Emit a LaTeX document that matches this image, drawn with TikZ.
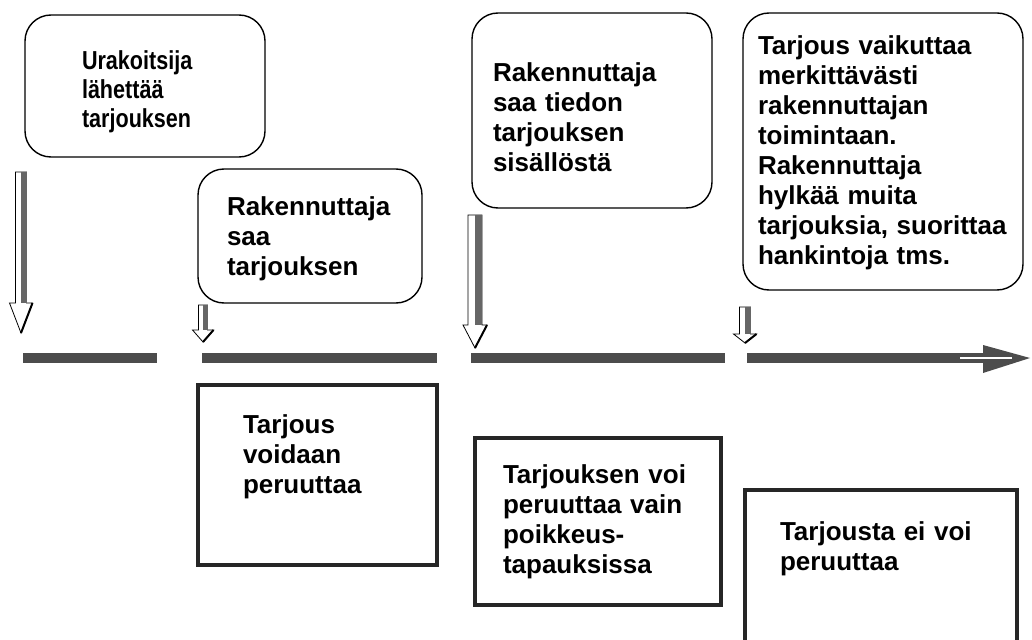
\documentclass[tikz,border=0pt]{standalone}
\usepackage{fontspec}
\setmainfont{Liberation Sans}
\newfontfamily\kapea{Liberation Sans}[FakeStretch=0.83]
\usepackage{tikz}
\hyphenpenalty=10000
\exhyphenpenalty=10000
\tikzset{
  kupla/.style={draw,line width=1.4pt,rounded corners=26pt,anchor=north west,
    inner ysep=0pt,outer sep=0pt,align=left}, % tapahtumat
  ruutu/.style={draw=black!85,line width=3.5pt,anchor=north west,
    inner ysep=0pt,outer sep=0pt,align=left}, % peruutus
  jana/.style={line width=10pt,black!70} % aikajana
}
% alasnuoli: x, yla, kanta, karki, puolileveys, karjen puolileveys
\newcommand\alasnuoli[6]{%
  \filldraw[fill=white,line width=0.8pt] (#1-#5,#2) -- (#1+#5,#2) -- (#1+#5,#3)
    -- (#1+#6,#3) -- (#1,#4) -- (#1-#6,#3) -- (#1-#5,#3) -- cycle;
  \fill[black!60] (#1,#2) rectangle (#1+#5,#3);
  \draw[line width=2pt] (#1+#6,#3) -- (#1,#4);
}

\begin{document}
\begin{tikzpicture}[x=1pt,y=-1pt,
font=\bfseries\fontsize{26}{30}\selectfont
]
\useasboundingbox (0,0) rectangle (1032,639);

%Tapahtumat
\node[kupla,font=\kapea\bfseries\fontsize{26}{29}\selectfont,
  inner xsep=57,text width=126,text height=55,text depth=87] (b1) at (25,15)
  {Urakoitsija\\lähettää\\tarjouksen};
\node[kupla,inner xsep=29,text width=166,text height=46,text depth=88] (b2) at (198,169)
  {Rakennuttaja\\saa\\tarjouksen};
\node[kupla,inner xsep=21,text width=198,text height=69,text depth=126] (b3) at (472,13)
  {Rakennuttaja\\saa tiedon\\tarjouksen\\sisällöstä};
\node[kupla,inner xsep=15,text width=250,text height=42,text depth=235] (b4) at (743,13)
  {Tarjous vaikuttaa\\merkittävästi\\rakennuttajan\\toimintaan.\\Rakennuttaja\\hylkää muita\\tarjouksia, suorittaa\\hankintoja tms.};

%Peruutus
\node[ruutu,inner xsep=45,text width=149,text height=48,text depth=132] (r1) at (198,385)
  {Tarjous\\voidaan\\peruuttaa};
\node[ruutu,inner xsep=28,text width=190,text height=45,text depth=122] (r2) at (475,438)
  {Tarjouksen voi\\peruuttaa vain\\poikkeus-\\tapauksissa};
\node[ruutu,inner xsep=35,text width=202,text height=50,text depth=200] (r3) at (745,490)
  {Tarjousta ei voi\\peruuttaa};

%Aikajana
\draw[jana] (23,358) -- (157,358);
\draw[jana] (202,358) -- (437,358);
\draw[jana] (471,358) -- (725,358);
\draw[jana] (747,358) -- (986,358);
\fill[black!70] (983,345) -- (1030,358) -- (983,373) -- cycle;
\draw[white,line width=1.5pt] (960,358) -- (1012,358);

%Nuolet
\alasnuoli{21}{172}{303}{333}{5.5}{11.5}
\alasnuoli{203}{305}{330}{342}{4.5}{10.5}
\alasnuoli{475}{215}{325}{348}{7}{12}
\alasnuoli{745}{307}{334}{343}{5.5}{11.5}

\end{tikzpicture}
\end{document}
